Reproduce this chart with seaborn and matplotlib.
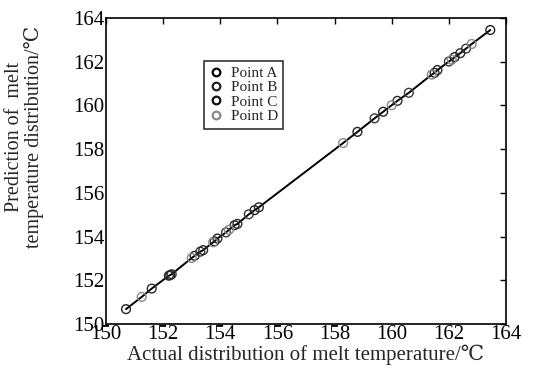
import seaborn as sns
import pandas as pd
import numpy as np
import matplotlib.pyplot as plt

a_actual = [150.70, 152.25, 153.10, 153.80, 154.50, 155.20, 158.80, 159.70, 161.50, 162.20, 163.45]
a_pred = [150.68, 152.24, 153.12, 153.78, 154.52, 155.21, 158.79, 159.71, 161.49, 162.21, 163.45]
b_actual = [152.30, 153.30, 154.20, 155.00, 159.40, 160.60, 162.00, 162.60]
b_pred = [152.28, 153.31, 154.19, 155.02, 159.41, 160.58, 162.01, 162.60]
c_actual = [151.60, 152.20, 153.40, 153.90, 154.60, 155.35, 160.20, 161.60, 162.40]
c_pred = [151.62, 152.21, 153.38, 153.91, 154.58, 155.34, 160.21, 161.62, 162.39]
d_actual = [151.25, 153.00, 153.75, 154.30, 158.30, 160.00, 161.40, 162.10, 162.80]
d_pred = [151.24, 153.02, 153.74, 154.31, 158.28, 160.01, 161.41, 162.09, 162.81]

names = ['Point A', 'Point B', 'Point C', 'Point D']
colors = ['#222222', '#3a3a3a', '#2a2a2a', '#8a8a8a']

frames = []
for name, xa, yp in zip(names, [a_actual, b_actual, c_actual, d_actual],
                        [a_pred, b_pred, c_pred, d_pred]):
    frames.append(pd.DataFrame({'actual': xa, 'pred': yp, 'point': name}))
df = pd.concat(frames, ignore_index=True)
line_df = df.sort_values('actual')

sns.set_theme(style='white')
plt.rcParams['font.family'] = ['Liberation Serif', 'DejaVu Serif']

fig = plt.figure(figsize=(5.33, 3.76), dpi=100)
ax = fig.add_axes([106/533, 1-324/376, 400/533, 306/376])

ax.plot(line_df['actual'], line_df['pred'], color='black', lw=1.4, zorder=1)
sns.scatterplot(data=df, x='actual', y='pred', hue='point', palette=colors,
                marker='o', s=40, linewidth=1.0, ax=ax, zorder=2, legend=False)
# open circles
for coll in ax.collections:
    ec = coll.get_facecolors()
    coll.set_edgecolors(ec)
    coll.set_facecolor('none')

ax.set_xlim(150, 164)
ax.set_ylim(150, 164)
ax.set_xticks(np.arange(150, 165, 2))
ax.set_yticks(np.arange(150, 165, 2))
ax.tick_params(direction='in', top=True, right=True, length=4, width=1,
               labelsize=15, colors='black', pad=1)
for s in ax.spines.values():
    s.set_color('black')
    s.set_linewidth(1.2)

ax.set_xlabel('Actual distribution of melt temperature/℃', fontsize=15, labelpad=0)
ax.set_ylabel('Prediction of  melt\ntemperature distribution/℃', fontsize=14.5,
              linespacing=1.0)
ax.yaxis.set_label_coords(-0.155, 0.61)

handles = [plt.Line2D([], [], ls='none', marker='o', mfc='none', mec=c, mew=1.6,
                      ms=5.5) for c in ['black', '#222222', '#111111', '#888888']]
leg = ax.legend(handles, names, loc='upper left', bbox_to_anchor=(0.245, 0.86),
                fontsize=11, frameon=True, fancybox=False, edgecolor='black',
                handlelength=0.9, handletextpad=0.5, borderpad=0.35,
                labelspacing=0.05, borderaxespad=0)
leg.get_frame().set_linewidth(1.2)

fig.savefig('out.png', dpi=100)
